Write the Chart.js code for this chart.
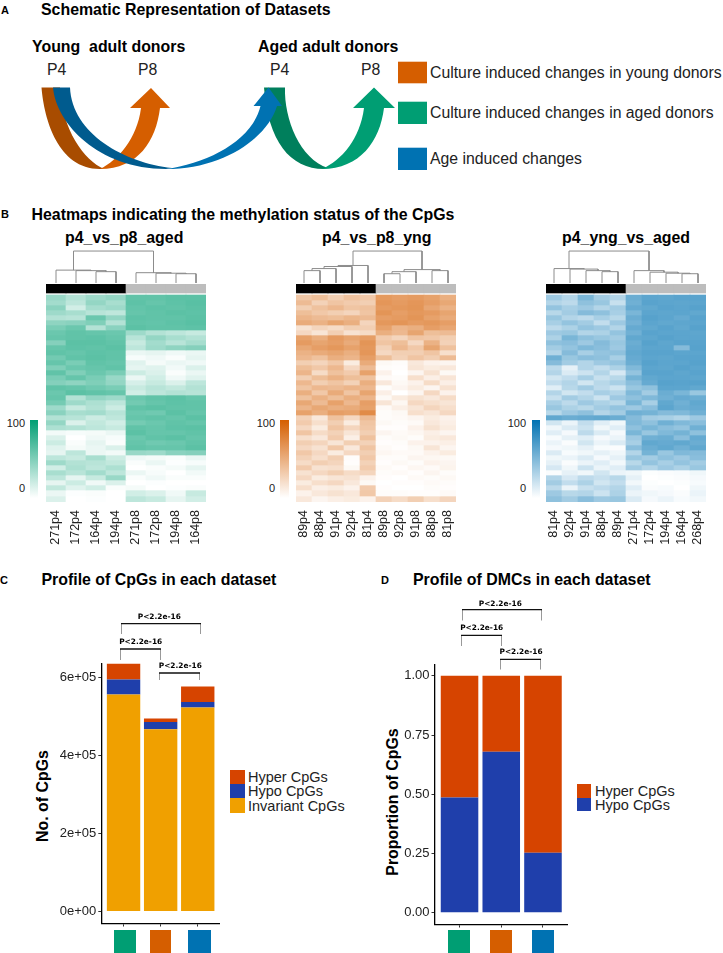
<!DOCTYPE html>
<html lang="en">
<head>
<meta charset="UTF-8">
<title>Datasets</title>
<script src="https://cdn.jsdelivr.net/npm/chart.js"></script>
<style>
  html, body { margin:0; padding:0; background:#fff; }
  body { position:relative; width:723px; height:953px; overflow:hidden; font-family:"Liberation Sans",Arial,sans-serif; color:#111; }
  canvas, svg, .box, .t { position:absolute; }
  .t { white-space:pre; line-height:1; transform:translateY(-50%); }
  .b { font-weight:bold; color:#000; font-size:15.9px; }
  .l { font-size:15.8px; color:#222; }
  .k { font-size:11px; font-weight:bold; color:#000; }
  .g { font-size:14.5px; color:#222; }
  .v { transform:translate(-50%,-50%) rotate(-90deg); }
  .p { font-family:"DejaVu Sans",sans-serif; font-weight:bold; font-size:7.4px; transform:translate(-50%,-50%); color:#000; }
  .n { font-size:11px; color:#222; transform:translate(-100%,-50%); }
</style>
</head>
<body>
<!-- panel A -->
<div class="t k" style="left:1px;top:9.5px">A</div>
<div class="t b" style="left:41px;top:9.5px">Schematic Representation of Datasets</div>
<div class="t b" style="left:32px;top:46.5px">Young  adult donors</div>
<div class="t b" style="left:258px;top:46.5px">Aged adult donors</div>
<div class="t l" style="left:47px;top:70px">P4</div>
<div class="t l" style="left:138px;top:70px">P8</div>
<div class="t l" style="left:270px;top:70px">P4</div>
<div class="t l" style="left:361px;top:70px">P8</div>
<svg style="left:0;top:0" width="723" height="180">
  <path fill="#a84c00" d="M41.5 87.5 C44 119 58 169 100 169 L104 169 C84 160 62 130 60 87.5Z"/>
  <path fill="#d55e00" d="M160 108 C156 141 138 169 100 169 C118 160 137 139 141 108 L130 108 L151 88 L170 108Z"/>
  <path fill="#007f5c" d="M264 87.5 L285 87.5 C284 119 300 159 328 168 L324 169 C290 169 268 141 264 87.5Z"/>
  <path fill="#005b8e" d="M53 87.5 C56 123 98 169 166 169 L172 168 C125 163 72 134 70 87.5Z"/>
  <path fill="#0072b2" d="M277 106 C268 137 224 169 166 169 C208 163 252 141 260.5 106 L253.5 106 L268.5 87.5 L282 106Z"/>
  <path fill="#009e73" d="M384 108 C380 141 360 169 322 169 C342 160 360 139 364 108 L353 108 L374 87.5 L395 108Z"/>
  <rect x="398" y="61.7" width="29" height="21.6" fill="#d55e00"/>
  <rect x="398" y="101.7" width="29" height="22.3" fill="#009e73"/>
  <rect x="398" y="147.7" width="29" height="22.3" fill="#0072b2"/>
</svg>
<div class="t l" style="left:430px;top:73px">Culture induced changes in young donors</div>
<div class="t l" style="left:430px;top:113px">Culture induced changes in aged donors</div>
<div class="t l" style="left:430px;top:159px">Age induced changes</div>

<!-- panel B -->
<div class="t k" style="left:1px;top:214px">B</div>
<div class="t b" style="left:31.5px;top:215px">Heatmaps indicating the methylation status of the CpGs</div>
<div class="t b" style="left:65px;top:238px">p4_vs_p8_aged</div>
<div class="t b" style="left:322px;top:238px">p4_vs_p8_yng</div>
<div class="t b" style="left:562px;top:238px">p4_yng_vs_aged</div>

<canvas id="dendroAged" width="160" height="33" style="left:46px;top:250px"></canvas>
<canvas id="dendroYng" width="160" height="33" style="left:296px;top:250px"></canvas>
<canvas id="dendroAge" width="160" height="33" style="left:546px;top:250px"></canvas>
<canvas id="heatAged" width="160" height="272" style="left:46px;top:284px"></canvas>
<canvas id="heatYng" width="160" height="272" style="left:296px;top:284px"></canvas>
<canvas id="heatAge" width="160" height="272" style="left:546px;top:284px"></canvas>

<div class="box" style="left:29.5px;top:420px;width:8.5px;height:78px;background:linear-gradient(#009e73 0%,#fff 100%)"></div>
<div class="box" style="left:280px;top:420px;width:8.5px;height:78px;background:linear-gradient(#d55e00 0%,#fff 100%)"></div>
<div class="box" style="left:531.5px;top:420px;width:8.5px;height:78px;background:linear-gradient(#0072b2 0%,#fff 100%)"></div>
<div class="t n" style="left:25px;top:423px">100</div><div class="t n" style="left:25px;top:488px">0</div>
<div class="t n" style="left:275px;top:423px">100</div><div class="t n" style="left:275px;top:488px">0</div>
<div class="t n" style="left:526px;top:423px">100</div><div class="t n" style="left:526px;top:488px">0</div>

<!-- panel C -->
<div class="t k" style="left:0;top:580px">C</div>
<div class="t b" style="left:41.5px;top:580px">Profile of CpGs in each dataset</div>
<div class="t b v" style="left:43px;top:796px">No. of CpGs</div>
<canvas id="cpgChart" width="170" height="267" style="left:50px;top:663px"></canvas>
<svg style="left:0;top:600px" width="723" height="80" fill="none">
  <g stroke="#999"><path d="M121.5 24V34M200.5 24V34M120.5 49V60M160.5 49V60M159.5 73V83.5M199.5 73V83.5"/>
  <path d="M462.5 10V20.5M541.5 10V20.5M461.5 35V46M501.5 35V46M500.5 59V69.5M540.5 59V69.5"/></g>
  <g stroke="#111" stroke-width="1.3"><path d="M121 23.7H201M120 49H161M159 73H200M462 9.7H542M461 35.3H502M500 59.3H541"/></g>
</svg>
<div class="t p" style="left:159.3px;top:617.3px">P&lt;2.2e-16</div>
<div class="t p" style="left:140.7px;top:642px">P&lt;2.2e-16</div>
<div class="t p" style="left:180.3px;top:666px">P&lt;2.2e-16</div>
<div class="box" style="left:114px;top:930px;width:21.7px;height:23px;background:#009e73"></div>
<div class="box" style="left:149.7px;top:930px;width:21.7px;height:23px;background:#d55e00"></div>
<div class="box" style="left:188.3px;top:930px;width:22.4px;height:23px;background:#0072b2"></div>
<div class="box" style="left:229.5px;top:770px;width:15.5px;height:14.3px;background:#d64400"></div>
<div class="box" style="left:229.5px;top:784.3px;width:15.5px;height:14px;background:#1f3fab"></div>
<div class="box" style="left:229.5px;top:798.3px;width:15.5px;height:14.4px;background:#f0a000"></div>
<div class="t g" style="left:248px;top:777px">Hyper CpGs</div>
<div class="t g" style="left:248px;top:791px">Hypo CpGs</div>
<div class="t g" style="left:248px;top:806px">Invariant CpGs</div>

<!-- panel D -->
<div class="t k" style="left:381px;top:580px">D</div>
<div class="t b" style="left:413px;top:580px">Profile of DMCs in each dataset</div>
<div class="t b v" style="left:393px;top:801.7px">Proportion of CpGs</div>
<canvas id="dmcChart" width="167" height="267" style="left:400.5px;top:663.5px"></canvas>
<div class="t p" style="left:500.3px;top:603.7px">P&lt;2.2e-16</div>
<div class="t p" style="left:481.7px;top:628.3px">P&lt;2.2e-16</div>
<div class="t p" style="left:521px;top:652.3px">P&lt;2.2e-16</div>
<div class="box" style="left:448.3px;top:930px;width:22px;height:23px;background:#009e73"></div>
<div class="box" style="left:490.3px;top:930px;width:22px;height:23px;background:#d55e00"></div>
<div class="box" style="left:532px;top:930px;width:22px;height:23px;background:#0072b2"></div>
<div class="box" style="left:576.5px;top:784px;width:14.5px;height:13.5px;background:#d64400"></div>
<div class="box" style="left:576.5px;top:797.5px;width:14.5px;height:13.5px;background:#1f3fab"></div>
<div class="t g" style="left:595px;top:791px">Hyper CpGs</div>
<div class="t g" style="left:595px;top:805px">Hypo CpGs</div>

<script>
const agedSamples = ['271p4','172p4','164p4','194p4','271p8','172p8','194p8','164p8'];
const yngSamples = ['89p4','88p4','91p4','92p4','81p4','89p8','92p8','91p8','88p8','81p8'];
const ageSamples = ['81p4','92p4','91p4','88p4','89p4','271p4','172p4','194p4','164p4','268p4'];

const rowHeights = [5,5,5,5,5,5,5,5,5,5,5,5,5,5,5,5,5,5,5,5,5,5,5,5,5,5,5,5,5,5,5,5,5,5,5,5,5,5,5,6,6];

const agedCells = [
[40,30,38,42,62,62,64,64],[36,26,42,34,63,60,63,65],[45,18,35,38,61,63,62,64],[38,34,28,25,60,62,64,63],
[30,28,58,42,63,62,62,64],[44,46,50,30,62,61,63,65],[52,58,30,46,64,62,62,63],[58,62,60,58,38,30,26,22],
[60,62,63,60,28,42,34,30],[48,64,64,62,22,36,28,35],[60,63,62,64,26,38,44,48],[62,60,63,62,8,10,6,8],
[55,62,64,62,3,6,2,10],[60,52,62,60,12,4,8,6],[50,58,60,62,10,12,5,14],[62,50,58,52,20,14,2,8],
[52,60,52,40,8,18,6,12],[48,44,50,42,16,22,14,26],[62,60,56,52,22,28,24,30],[58,64,62,60,18,26,30,28],
[60,30,42,38,58,62,64,60],[54,38,32,26,55,60,63,62],[38,22,30,20,62,64,62,62],[46,34,36,28,58,56,64,60],
[30,28,20,25,60,62,60,64],[42,14,24,18,54,58,62,60],[32,30,26,22,62,60,63,64],[5,3,4,8,64,60,60,62],
[14,0,6,3,58,62,64,60],[20,2,10,2,60,56,58,62],[12,4,8,14,62,60,60,64],[10,26,8,5,40,38,46,48],
[26,22,34,20,6,4,2,8],[38,30,28,24,2,8,1,3],[18,32,26,32,0,2,4,10],[34,28,36,26,8,3,0,5],
[26,10,22,40,2,6,2,2],[10,20,6,14,0,1,0,0],[24,12,18,2,4,0,1,2],[8,1,2,0,18,14,6,22],[14,0,1,0,26,22,10,18]];

const yngCells = [
[35,40,30,38,34,63,60,62,58,50],[42,28,36,32,30,65,62,65,60,54],[30,38,44,36,38,62,64,66,55,48],[40,34,30,26,36,66,60,64,62,56],
[46,42,40,45,42,60,62,66,58,52],[52,48,56,50,26,64,66,62,64,60],[18,26,22,30,30,58,46,50,60,55],[24,16,30,18,22,50,44,56,40,42],
[58,50,62,56,60,32,26,36,34,30],[62,56,60,52,66,36,40,24,48,28],[54,60,64,58,64,28,44,34,56,38],[48,52,56,50,65,24,30,30,36,20],
[44,38,50,46,60,40,28,36,30,42],[30,26,34,12,52,4,2,14,8,6],[40,34,44,24,42,2,1,16,12,14],[46,22,38,32,58,8,0,6,18,4],
[30,40,48,40,38,3,2,20,10,16],[44,30,36,28,50,14,4,8,22,10],[36,44,42,46,44,2,6,12,6,18],[50,34,52,36,56,10,0,6,24,8],
[38,48,40,50,46,4,12,18,14,22],[54,42,58,44,60,16,5,24,20,16],[46,54,50,52,58,3,10,16,26,20],[58,50,60,58,72,2,4,20,16,24],
[28,14,38,24,42,2,3,6,12,8],[32,20,30,12,36,4,2,3,14,10],[24,12,36,26,34,1,1,8,18,12],[36,22,28,16,30,6,3,5,10,6],
[20,14,32,10,38,2,4,2,12,14],[30,26,16,30,28,1,2,8,8,10],[24,18,34,14,36,3,1,4,16,6],[34,24,12,24,30,5,3,3,8,12],
[28,20,30,2,34,2,2,6,5,4],[22,30,26,1,28,1,4,2,8,6],[32,18,20,4,32,3,1,5,3,7],[18,24,30,22,26,2,3,1,6,2],
[24,12,16,18,8,1,0,3,2,4],[12,20,24,14,4,0,1,1,3,2],[20,10,12,8,32,1,0,0,2,1],[8,14,18,14,34,2,2,1,1,3],[14,6,10,12,8,28,22,30,20,26]];

const ageCells = [
[38,30,52,36,30,58,64,63,65,65],[30,26,44,40,22,56,65,64,63,64],[42,34,38,30,36,60,62,65,64,66],[28,36,48,44,34,52,64,63,64,62],
[40,30,26,34,28,58,66,64,60,65],[34,42,36,24,38,55,64,62,63,64],[26,32,42,38,30,60,62,65,62,66],[38,40,30,32,42,56,65,64,64,63],
[32,52,44,40,36,62,63,66,64,64],[44,46,38,48,40,58,66,63,65,65],[36,42,50,46,38,60,64,64,48,66],[30,48,34,42,44,62,65,65,64,64],
[56,40,46,44,34,60,64,63,65,65],[48,36,30,38,42,58,66,64,64,66],[26,10,30,24,32,50,64,63,66,64],[30,14,20,30,16,42,65,65,63,65],
[18,24,34,22,28,54,62,64,64,63],[24,30,18,28,34,46,60,66,65,66],[12,28,36,26,20,40,44,64,64,62],[30,18,24,34,30,50,36,58,52,40],
[22,36,30,20,38,44,50,56,60,58],[34,26,38,32,28,52,34,62,56,62],[40,32,28,36,42,38,46,64,58,60],[28,38,44,30,36,56,54,48,50,56],
[62,58,60,62,58,48,36,34,30,38],[18,8,24,12,6,50,44,56,50,46],[6,14,20,6,12,44,52,46,42,56],[12,4,26,14,4,52,40,50,54,44],
[3,10,12,4,8,38,56,58,46,60],[8,2,18,8,14,34,62,60,62,58],[4,6,10,3,2,46,58,62,56,62],[14,3,6,10,6,30,54,40,50,48],
[6,8,14,4,10,40,36,44,38,46],[10,2,8,12,5,28,42,34,42,36],[16,6,20,8,12,36,30,38,32,40],[2,10,6,18,8,6,1,2,3,6],
[30,16,26,22,28,10,0,1,2,4],[36,24,32,18,24,5,1,0,1,3],[26,8,22,26,30,12,2,3,0,6],[38,28,30,20,32,8,6,4,2,8],[44,36,46,38,40,14,4,8,3,5]];

// dendrogram merges: [node a, node b, height]. nodes below n are leaves, n+k is merge k
const agedMerges = [[2,3,11],[1,8,12],[0,9,12.5],[6,7,9],[5,11,9.5],[4,12,10],[10,13,31]];
const yngMerges = [[0,1,12],[10,2,14],[11,3,16],[12,4,17],[6,5,9],[14,7,11],[8,9,12],[15,16,13],[13,17,31]];
const ageMerges = [[3,4,11],[2,10,12],[1,11,13.5],[0,12,14],[8,9,9],[7,14,9.5],[6,15,10.5],[5,16,12],[13,17,31]];

const cpgHyper = [40000,9500,40000];
const cpgHypo = [39000,18500,14000];
const cpgInvariant = [556000,467000,523000];
const cpgTicks = [0,200000,400000,600000];
const dmcHyper = [0.514,0.321,0.7465];
const dmcHypo = [0.486,0.679,0.2535];
const dmcTicks = [0,0.25,0.5,0.75,1];

function mix(rgb, v) {
  const c = rgb.map(x => Math.round(255 + (x - 255) * v / 100));
  return `rgb(${c[0]},${c[1]},${c[2]})`;
}

function heat(id, labels, cells, rgb, blacks) {
  const one = h => labels.map(() => h);
  const datasets = [
    { data: one(9), backgroundColor: labels.map((l, i) => i < blacks ? '#000' : '#bdbdbd') },
    { data: one(2), backgroundColor: 'rgba(0,0,0,0)' }
  ];
  cells.forEach((row, k) => datasets.push({ data: one(rowHeights[k]), backgroundColor: row.map(v => mix(rgb, v)) }));
  new Chart(document.getElementById(id), {
    type: 'bar',
    data: { labels, datasets },
    options: {
      responsive: false, animation: false, events: [],
      layout: { padding: 0 },
      datasets: { bar: { barPercentage: 1, categoryPercentage: 1, borderWidth: 0 } },
      plugins: { legend: { display: false }, tooltip: { enabled: false } },
      scales: {
        x: {
          stacked: true,
          grid: { display: false }, border: { display: false },
          ticks: { autoSkip: false, minRotation: 90, maxRotation: 90, padding: 0, color: '#222', font: { family: 'Liberation Sans', size: 12.5 } },
          afterFit: s => { s.height = 54; s.paddingLeft = 0; s.paddingRight = 0; }
        },
        y: { display: false, stacked: true, reverse: true, min: 0, max: 218 }
      }
    }
  });
}

function dendro(id, n, merges) {
  const nodes = [];
  for (let i = 0; i < n; i++) nodes.push({ x: i + 0.5, h: 0 });
  const datasets = merges.map(m => {
    const a = nodes[m[0]], b = nodes[m[1]];
    nodes.push({ x: (a.x + b.x) / 2, h: m[2] });
    return {
      data: [{ x: a.x, y: a.h }, { x: a.x, y: m[2] }, { x: b.x, y: m[2] }, { x: b.x, y: b.h }],
      showLine: true, pointRadius: 0, borderColor: '#8c8c8c', borderWidth: 1, clip: false
    };
  });
  new Chart(document.getElementById(id), {
    type: 'scatter',
    data: { datasets },
    options: {
      responsive: false, animation: false, events: [],
      layout: { padding: 0 },
      plugins: { legend: { display: false }, tooltip: { enabled: false } },
      scales: {
        x: { display: false, type: 'linear', min: 0, max: n },
        y: { display: false, min: 0, max: 32 }
      }
    }
  });
}

function stacked(id, series, colors, yMin, yMax, ticks, fmt, yWidth) {
  new Chart(document.getElementById(id), {
    type: 'bar',
    data: {
      datasets: series.map((s, i) => ({
        data: s.map((v, k) => ({ x: k + 1, y: v })),
        backgroundColor: colors[i], borderWidth: 0
      }))
    },
    options: {
      responsive: false, animation: false, events: [],
      layout: { padding: 0 },
      datasets: { bar: { barPercentage: 0.9, categoryPercentage: 1 } },
      plugins: { legend: { display: false }, tooltip: { enabled: false } },
      scales: {
        x: {
          type: 'linear', stacked: true, offset: false, min: 0.4, max: 3.6,
          afterBuildTicks: s => { s.ticks = [1, 2, 3].map(value => ({ value })); },
          afterFit: s => { s.height = 6.5; s.paddingLeft = 0; s.paddingRight = 0; },
          grid: { offset: false, drawOnChartArea: false, tickLength: 3, color: '#333' },
          border: { color: '#000', width: 1.3 },
          ticks: { callback: () => '', padding: 0 }
        },
        y: {
          stacked: true, min: yMin, max: yMax,
          afterBuildTicks: s => { s.ticks = ticks.map(value => ({ value })); },
          afterFit: s => { s.width = yWidth; s.paddingTop = 0; s.paddingBottom = 0; },
          grid: { drawOnChartArea: false, tickLength: 3, color: '#333' },
          border: { color: '#000', width: 1.3 },
          ticks: { callback: fmt, padding: 2, color: '#222', font: { family: 'Liberation Sans', size: 13 } }
        }
      }
    }
  });
}

heat('heatAged', agedSamples, agedCells, [0, 158, 115], 4);
heat('heatYng', yngSamples, yngCells, [213, 94, 0], 5);
heat('heatAge', ageSamples, ageCells, [0, 114, 178], 5);
dendro('dendroAged', agedSamples.length, agedMerges);
dendro('dendroYng', yngSamples.length, yngMerges);
dendro('dendroAge', ageSamples.length, ageMerges);

const expo = v => { const [m, e] = v.toExponential().split('e'); return m + 'e' + e[0] + e.slice(1).padStart(2, '0'); };
stacked('cpgChart', [cpgInvariant, cpgHypo, cpgHyper], ['#f0a000', '#1f3fab', '#d64400'], -31000, 637000, cpgTicks, expo, 51.3);
stacked('dmcChart', [dmcHypo, dmcHyper], ['#1f3fab', '#d64400'], -0.05, 1.05, dmcTicks, v => v.toFixed(2), 33.5);
</script>
</body>
</html>
